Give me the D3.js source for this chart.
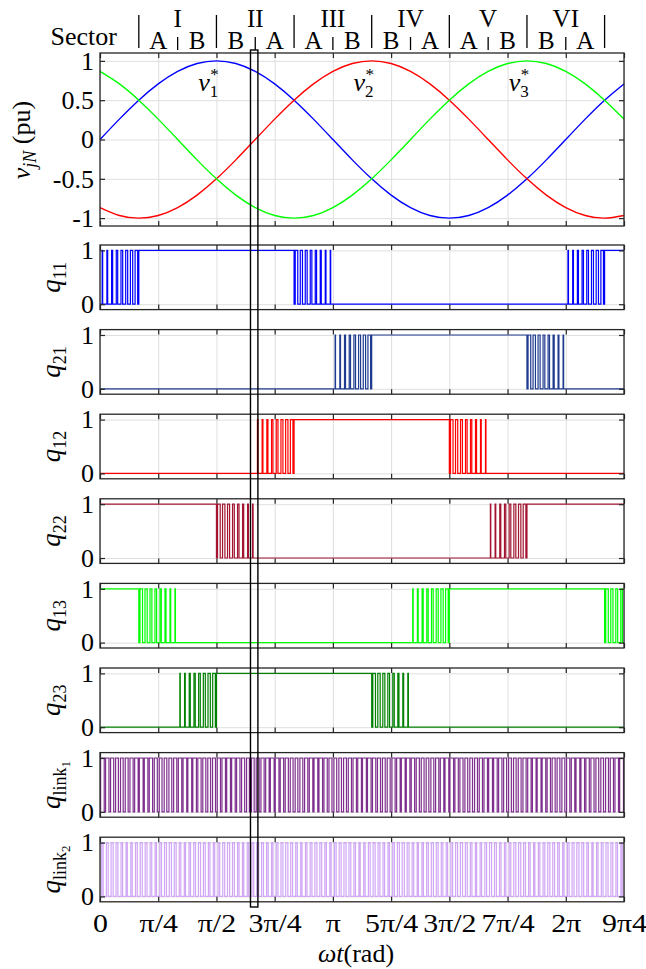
<!DOCTYPE html>
<html>
<head>
<meta charset="utf-8">
<script src="https://cdn.jsdelivr.net/npm/d3@7"></script>
<style>
  body { margin: 0; background: #fff; }
  svg text { font-family: "Liberation Serif", "DejaVu Serif", serif; fill: #000; }
  .grid line { stroke: #dfdfdf; stroke-width: 1; }
  .grid path, .ticks path { display: none; }
  .ticks line { stroke: #262626; stroke-width: 1.2; }
  .ticks text { font-size: 26px; }
</style>
</head>
<body>
<svg id="chart" width="646" height="969" font-family="Liberation Serif, DejaVu Serif, serif"></svg>
<script>
// ---- values ----
const xTickSteps = [0, 1, 2, 3, 4, 5, 6, 7, 8, 9]; // multiples of pi/4
const xTickLabels = ['0', 'π/4', 'π/2', '3π/4', 'π', '5π/4', '3π/2', '7π/4', '2π', '9π4'];

const vTicks = [-1, -0.5, 0, 0.5, 1];
const vTickLabels = ['-1', '-0.5', '0', '0.5', '1'];
const qTicks = [0, 1];
const qTickLabels = ['0', '1'];

// reference voltages, one sample every pi/12 from 0 to 9pi/4
const v1 = [0, .259, .5, .707, .866, .966, 1, .966, .866, .707, .5, .259, 0, -.259,
  -.5, -.707, -.866, -.966, -1, -.966, -.866, -.707, -.5, -.259, 0, .259, .5, .707];
const v2 = [-.866, -.966, -1, -.966, -.866, -.707, -.5, -.259, 0, .259, .5, .707, .866, .966,
  1, .966, .866, .707, .5, .259, 0, -.259, -.5, -.707, -.866, -.966, -1, -.966];
const v3 = [.866, .707, .5, .259, 0, -.259, -.5, -.707, -.866, -.966, -1, -.966, -.866, -.707,
  -.5, -.259, 0, .259, .5, .707, .866, .966, 1, .966, .866, .707, .5, .259];
const vColors = ['#0000ff', '#ff0000', '#00ff00'];
const vLabelAngle = [Math.PI / 2, 7 * Math.PI / 6, 11 * Math.PI / 6];
const vLabelLevel = 0.62;

const sectorNames = ['I', 'II', 'III', 'IV', 'V', 'VI'];
const subsectorNames = ['A', 'B', 'B', 'A', 'A', 'B', 'B', 'A', 'A', 'B', 'B', 'A'];

// duty of each carrier period (pi/48) inside a switching subsector
const riseA = [.10, .16, .22, .29, .35, .41, .47, .53];
const riseB = [.08, .14, .21, .27, .34, .41, .48, .55];
const fallA = [.52, .45, .39, .33, .27, .21, .15, .09];
const fallB = [.55, .49, .42, .36, .30, .23, .17, .11];

// switch state in each pi/6 subsector: 0, 1 or a duty profile
const q11 = [riseA, 1, 1, 1, 1, fallA, 0, 0, 0, 0, 0, 0, riseA, 1];
const q21 = [0, 0, 0, 0, 0, 0, riseB, 1, 1, 1, 1, fallB, 0, 0];
const q12 = [0, 0, 0, 0, riseA, 1, 1, 1, 1, fallA, 0, 0, 0, 0];
const q22 = [1, 1, 1, fallB, 0, 0, 0, 0, 0, 0, riseB, 1, 1, 1];
const q13 = [1, fallA, 0, 0, 0, 0, 0, 0, riseA, 1, 1, 1, 1, fallA];
const q23 = [0, 0, riseB, 1, 1, 1, 1, fallB, 0, 0, 0, 0, 0, 0];

// dc-link switches toggle in every carrier period
const link1Duty = [
  .74, .70, .64, .58, .55, .60, .66, .72, .78, .74, .68, .62, .57, .54, .59, .65,
  .70, .76, .80, .74, .68, .62, .57, .61, .66, .72, .78, .74, .70, .64, .58, .55,
  .60, .66, .72, .78, .76, .70, .64, .58, .55, .60, .66, .72, .78, .74, .68, .62,
  .57, .54, .59, .65, .70, .76, .80, .74, .68, .62, .57, .61, .66, .72, .78, .74,
  .70, .64, .58, .55, .60, .66, .72, .78, .76, .70, .64, .58, .55, .60, .66, .72,
  .78, .74, .68, .62, .57, .54, .59, .65, .70, .76, .80, .74, .68, .62, .57, .61,
  .66, .72, .78, .74, .70, .64, .58, .55, .60, .66, .72, .78];
const link2Duty = [
  .30, .36, .42, .38, .32, .26, .30, .36, .42, .38, .33, .28, .34, .40, .44, .38,
  .32, .26, .31, .36, .42, .38, .32, .28, .34, .40, .44, .38, .31, .26, .30, .36,
  .41, .38, .32, .28, .35, .40, .44, .38, .32, .27, .30, .36, .42, .37, .32, .28,
  .34, .40, .43, .38, .32, .26, .30, .36, .42, .38, .32, .29, .34, .40, .44, .38,
  .32, .26, .30, .35, .42, .38, .33, .28, .34, .40, .44, .38, .32, .26, .30, .36,
  .42, .38, .32, .28, .34, .41, .44, .38, .32, .26, .30, .36, .42, .38, .32, .28,
  .34, .40, .44, .38, .32, .26, .30, .36, .42, .38, .32, .28];

const signals = [q11, q21, q12, q22, q13, q23, link1Duty, link2Duty];
const signalNames = [['11'], ['21'], ['12'], ['22'], ['13'], ['23'], ['link', '1'], ['link', '2']];
const signalColors = ['#0000ff', '#1f3b8f', '#ff0000', '#a2142f', '#00ff00', '#008000', '#7e2f8e', '#d0a6f5'];

// highlighted instant (rad)
const markerSpan = [2.03, 2.13];

// ---- layout ----
const svg = d3.select('#chart');
const serif = '"Liberation Serif", "DejaVu Serif", serif';
const left = 100, right = 624;
const carrier = Math.PI / 48;
const periods = 108;
const x = d3.scaleLinear().domain([0, 9 * Math.PI / 4]).range([left, right]);
const xTickValues = xTickSteps.map(k => k * Math.PI / 4);

function panel(top, height, y, yTicks) {
    const g = svg.append('g').attr('transform', 'translate(0,' + top + ')');
    g.append('g')
        .attr('class', 'grid')
        .attr('transform', 'translate(0,' + height + ')')
        .call(d3.axisBottom(x).tickValues(xTickValues).tickSize(-height).tickFormat(''));
    g.append('g')
        .attr('class', 'grid')
        .attr('transform', 'translate(' + left + ',0)')
        .call(d3.axisLeft(y).tickValues(yTicks).tickSize(-(right - left)).tickFormat(''));
    return g;
}

function frame(g, height, y, yTicks, yLabels, xLabels) {
    const bottom = g.append('g')
        .attr('class', 'ticks')
        .attr('transform', 'translate(0,' + height + ')')
        .call(d3.axisBottom(x).tickValues(xTickValues).tickSize(-5).tickSizeOuter(0).tickPadding(12)
            .tickFormat((d, i) => (xLabels ? xLabels[i] : '')));
    // the pi labels of the original are set wider than this serif face
    bottom.selectAll('text').attr('transform', 'scale(1.15,1)');
    g.append('g')
        .attr('class', 'ticks')
        .call(d3.axisTop(x).tickValues(xTickValues).tickSize(-5).tickSizeOuter(0).tickFormat(''));
    g.append('g')
        .attr('class', 'ticks')
        .attr('transform', 'translate(' + left + ',0)')
        .call(d3.axisLeft(y).tickValues(yTicks).tickSize(-5).tickSizeOuter(0).tickPadding(6)
            .tickFormat((d, i) => yLabels[i]));
    g.append('g')
        .attr('class', 'ticks')
        .attr('transform', 'translate(' + right + ',0)')
        .call(d3.axisRight(y).tickValues(yTicks).tickSize(-5).tickSizeOuter(0).tickFormat(''));
    g.selectAll('.ticks').attr('font-family', serif).attr('font-size', 26);
    g.append('rect')
        .attr('x', left)
        .attr('y', 0)
        .attr('width', right - left)
        .attr('height', height)
        .attr('fill', 'none')
        .attr('stroke', '#262626')
        .attr('stroke-width', 1.3);
}

// ---- header with sectors ----
const header = svg.append('g').attr('font-family', serif);
header.append('text')
    .attr('x', 117).attr('y', 45)
    .attr('text-anchor', 'end')
    .attr('font-size', 26)
    .text('Sector');
header.selectAll('line.major')
    .data(d3.range(7))
    .enter().append('line')
    .attr('x1', k => x(Math.PI / 6 + k * Math.PI / 3)).attr('x2', k => x(Math.PI / 6 + k * Math.PI / 3))
    .attr('y1', 15).attr('y2', 48)
    .attr('stroke', '#000').attr('stroke-width', 1.3);
header.selectAll('line.minor')
    .data(sectorNames)
    .enter().append('line')
    .attr('x1', (d, k) => x(Math.PI / 3 + k * Math.PI / 3)).attr('x2', (d, k) => x(Math.PI / 3 + k * Math.PI / 3))
    .attr('y1', 37).attr('y2', 50)
    .attr('stroke', '#000').attr('stroke-width', 1.3);
header.selectAll('text.sector')
    .data(sectorNames)
    .enter().append('text')
    .attr('x', (d, k) => x(Math.PI / 3 + k * Math.PI / 3))
    .attr('y', 27)
    .attr('text-anchor', 'middle')
    .attr('font-size', 25)
    .text(d => d);
header.selectAll('text.sub')
    .data(subsectorNames)
    .enter().append('text')
    .attr('x', (d, k) => x(Math.PI / 4 + k * Math.PI / 6))
    .attr('y', 49)
    .attr('text-anchor', 'middle')
    .attr('font-size', 25)
    .text(d => d);

// ---- reference voltage panel ----
const topY = 53, topH = 173;
const yV = d3.scaleLinear().domain([-1.1, 1.1]).range([topH, 0]);
const gV = panel(topY, topH, yV, vTicks);
const sineLine = d3.line()
    .x((d, i) => x(i * Math.PI / 12))
    .y(d => yV(d))
    .curve(d3.curveNatural);
gV.selectAll('path.v')
    .data([v1, v2, v3])
    .enter().append('path')
    .attr('d', sineLine)
    .attr('fill', 'none')
    .attr('stroke', (d, i) => vColors[i])
    .attr('stroke-width', 1.4);
vLabelAngle.forEach((a, i) => {
    const t = gV.append('text')
        .attr('x', x(a) - 8)
        .attr('y', yV(vLabelLevel))
        .attr('text-anchor', 'middle')
        .attr('font-family', serif)
        .attr('font-size', 26);
    t.append('tspan').attr('font-style', 'italic').text('v');
    t.append('tspan').attr('font-size', 17).attr('dy', 6).text(String(i + 1));
    t.append('tspan').attr('font-size', 17).attr('dx', -8).attr('dy', -17).text('*');
});
frame(gV, topH, yV, vTicks, vTickLabels, null);
const vLab = svg.append('text')
    .attr('transform', 'translate(30,140) rotate(-90)')
    .attr('text-anchor', 'middle')
    .attr('font-family', serif)
    .attr('font-size', 26);
vLab.append('tspan').attr('font-style', 'italic').text('v');
vLab.append('tspan').attr('font-style', 'italic').attr('font-size', 18).attr('dy', 6).text('jN');
vLab.append('tspan').attr('dy', -6).text(' (pu)');

// ---- switching signals ----
const qH = 64.6;
const yQ = d3.scaleLinear().domain([-0.1, 1.1]).range([qH, 0]);
const stepLine = d3.line()
    .x(d => x(d[0]))
    .y(d => yQ(d[1]))
    .curve(d3.curveStepAfter);

function expand(states) {
    if (states.length === periods) return states;
    const duty = [];
    states.forEach(s => {
        for (let j = 0; j < 8; j++) duty.push(Array.isArray(s) ? s[j] : s);
    });
    return duty.slice(0, periods);
}

function pulses(duty) {
    const pts = [];
    duty.forEach((d, k) => {
        const t0 = k * carrier;
        if (d >= 1) pts.push([t0, 1]);
        else if (d <= 0) pts.push([t0, 0]);
        else {
            pts.push([t0, 0]);
            pts.push([t0 + (1 - d) / 2 * carrier, 1]);
            pts.push([t0 + (1 + d) / 2 * carrier, 0]);
        }
    });
    pts.push([periods * carrier, pts[pts.length - 1][1]]);
    return pts;
}

signals.forEach((states, i) => {
    const top = 245 + i * 84.6;
    const g = panel(top, qH, yQ, qTicks);
    g.append('path')
        .attr('d', stepLine(pulses(expand(states))))
        .attr('fill', 'none')
        .attr('stroke', signalColors[i])
        .attr('stroke-width', 1.2);
    frame(g, qH, yQ, qTicks, qTickLabels, i === signals.length - 1 ? xTickLabels : null);

    const name = signalNames[i];
    const lab = svg.append('text')
        .attr('transform', 'translate(60,' + (top + qH / 2) + ') rotate(-90)')
        .attr('text-anchor', 'middle')
        .attr('font-family', serif)
        .attr('font-size', 27);
    lab.append('tspan').attr('font-style', 'italic').text('q');
    lab.append('tspan').attr('font-size', 18).attr('dy', 6).text(name[0]);
    if (name[1]) lab.append('tspan').attr('font-size', 13).attr('dy', 4).text(name[1]);
});

// ---- x label ----
const xLab = svg.append('text')
    .attr('x', 356).attr('y', 962)
    .attr('text-anchor', 'middle')
    .attr('font-family', serif)
    .attr('font-size', 26);
xLab.append('tspan').attr('font-style', 'italic').text('ωt');
xLab.append('tspan').text('(rad)');

// ---- highlighted instant ----
svg.append('rect')
    .attr('x', x(markerSpan[0]))
    .attr('y', 50)
    .attr('width', x(markerSpan[1]) - x(markerSpan[0]))
    .attr('height', 857)
    .attr('fill', 'none')
    .attr('stroke', '#000')
    .attr('stroke-width', 1.4);
</script>
</body>
</html>
